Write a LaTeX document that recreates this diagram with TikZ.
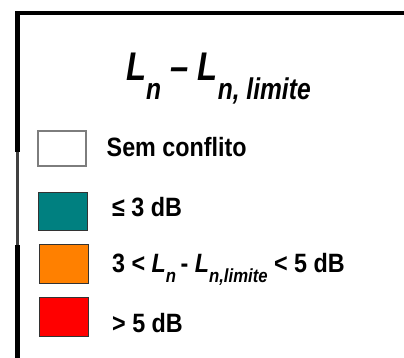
\documentclass[tikz,border=0pt]{standalone}
\usepackage{fontspec}
\setmainfont{Liberation Sans}
\newfontfamily\titlef[FakeStretch=0.82]{Liberation Sans}
\newfontfamily\bodyf[FakeStretch=0.88]{Liberation Sans}
\definecolor{tealc}{RGB}{0,128,128}
\definecolor{orangec}{RGB}{255,128,0}
\definecolor{redc}{RGB}{255,0,0}
\definecolor{boxgray}{RGB}{125,125,125}
\tikzset{
  legbox/.style={draw=black!80, line width=1pt, inner sep=0pt, minimum width=49pt, minimum height=38pt},
  emptybox/.style={draw=boxgray, line width=2.2pt, fill=white, inner sep=0pt, minimum width=47.8pt, minimum height=34.8pt},
  legtext/.style={anchor=base west, inner sep=0pt, font=\bodyf\bfseries\fontsize{26.5}{26.5}\selectfont},
  frame/.style={line width=4.5pt, black}
}
\begin{document}
\begin{tikzpicture}[x=1pt,y=-1pt]
\useasboundingbox (0,0) rectangle (404,358);
\fill[white] (0,0) rectangle (404,358);
% frame
\coordinate (tr) at (404,13.25);
\coordinate (tl) at (17.25,13.25);
\coordinate (lm) at (17.25,152);
\coordinate (lm2) at (17.5,152);
\coordinate (lb2) at (17.5,245);
\coordinate (lb) at (17.25,245);
\coordinate (bl) at (17.25,358);
\draw[frame] (tr) -- (tl) -- (lm);
\draw[line width=3.2pt, black!75] (lm2) -- (lb2);
\draw[frame] (lb) -- (bl);
% title
\node[anchor=base west, inner sep=0pt] (title) at (126,81)
  {\titlef\bfseries\itshape\fontsize{40}{40}\selectfont L\raisebox{-19pt}{\fontsize{30}{30}\selectfont n} – L\raisebox{-19pt}{\fontsize{30}{30}\selectfont n, limite}};
% boxes
\node[emptybox] (b1) at (62,148.5) {};
\node[legbox, fill=tealc] (b2) at (63,211.5) {};
\node[legbox, fill=orangec, minimum height=39pt] (b3) at (64,264) {};
\node[legbox, fill=redc, minimum height=39pt] (b4) at (64,317) {};
% labels
\node[legtext] (t1) at (106.5,157) {Sem conflito};
\node[legtext] (t2) at (112,216) {≤ 3 dB};
\node[legtext] (t3) at (112,272) {3 < \textit{L}\raisebox{-10pt}{\fontsize{19}{19}\selectfont\itshape n}\,- \textit{L}\raisebox{-10pt}{\fontsize{19}{19}\selectfont\itshape n,limite} < 5 dB};
\node[legtext] (t4) at (112,332) {> 5 dB};
\end{tikzpicture}
\end{document}
